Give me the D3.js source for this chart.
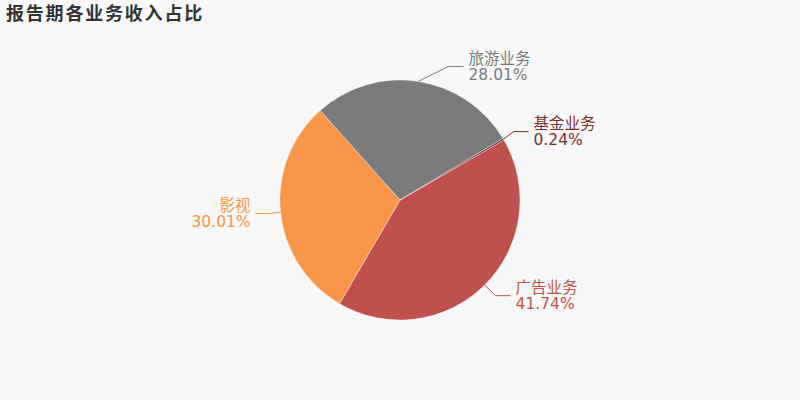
<!DOCTYPE html>
<html>
<head>
<meta charset="utf-8">
<script src="https://cdn.jsdelivr.net/npm/d3@7/dist/d3.min.js"></script>
<style>
  html, body { margin: 0; padding: 0; background: #f8f8f8; }
  svg { display: block; }
</style>
</head>
<body>
<svg id="chart" width="800" height="400"></svg>
<script>
const title = "报告期各业务收入占比";
const categories = ["广告业务", "影视", "旅游业务", "基金业务"];
const values = [41.74, 30.01, 28.01, 0.24];
const colors = ["#c0504d", "#f79646", "#7b7b7b", "#7a2e2c"];

const W = 800, H = 400;
const cx = 400, cy = 200, r = 120;
const len = 15, len2 = 15, labelDistance = 5, labelH = 32;
const font = "'DejaVu Sans', 'Noto Sans CJK SC', sans-serif";

const svg = d3.select("#chart");
svg.append("rect").attr("width", W).attr("height", H).attr("fill", "#f8f8f8");

svg.append("text")
  .attr("x", 6).attr("y", 20)
  .attr("font-family", "'Noto Sans CJK SC', sans-serif")
  .attr("font-size", 18).attr("font-weight", "bold")
  .attr("letter-spacing", 1.8)
  .attr("fill", "#333")
  .text(title);

const data = categories.map((c, i) => ({ name: c, value: values[i], color: colors[i] }));
const pie = d3.pie().sort(null).value(d => d.value)
  .startAngle(Math.PI / 3).endAngle(Math.PI / 3 + 2 * Math.PI);
const arcs = pie(data);
const arc = d3.arc().innerRadius(0).outerRadius(r);

const g = svg.append("g").attr("transform", `translate(${cx},${cy})`);
g.selectAll("path").data(arcs).enter().append("path")
  .attr("d", arc)
  .attr("fill", d => d.data.color)
  .attr("stroke", "#f8f8f8").attr("stroke-width", 0.4);

// label layout (ECharts-like)
const layouts = arcs.map(a => {
  const mid = (a.startAngle + a.endAngle) / 2;
  const dx = Math.sin(mid), dy = -Math.cos(mid);
  const dir = dx < 0 ? -1 : 1;
  const x0 = cx + r * dx, y0 = cy + r * dy;
  const x1 = cx + (r + len) * dx, y1 = cy + (r + len) * dy;
  const x2 = x1 + dir * len2;
  return { a, dir, pts: [[x0, y0], [x1, y1], [x2, y1]], x: x2 + dir * labelDistance, y: y1 };
});

function adjustSide(list, dir) {
  list.sort((p, q) => p.y - q.y);
  // simple overlap shift
  for (let i = 1; i < list.length; i++) {
    const minY = list[i - 1].y + labelH;
    if (list[i].y < minY) list[i].y = minY;
  }
  const up = list.filter(l => l.y < cy), down = list.filter(l => l.y >= cy);
  function changeX(items, isDown) {
    let last = isDown ? Number.MAX_VALUE : 0;
    for (const it of items) {
      const dY = Math.abs(it.y - cy);
      let dX = dY < r + len ? Math.sqrt((r + len + len2) ** 2 - dY * dY) : Math.abs(it.x - cx);
      if (isDown && dX >= last) dX = last - 10;
      if (!isDown && dX <= last) dX = last + 10;
      it.x = cx + dX * dir;
      last = dX;
    }
  }
  changeX(up, false);
  changeX(down, true);
}
adjustSide(layouts.filter(l => l.dir > 0), 1);
adjustSide(layouts.filter(l => l.dir < 0), -1);
layouts.forEach(l => {
  const dist = l.pts[1][0] - l.pts[2][0];
  l.pts[2][0] = l.x - l.dir * labelDistance;
  l.pts[1][0] = l.pts[2][0] + dist;
  l.pts[1][1] = l.pts[2][1] = l.y;
});

const lg = svg.append("g");
lg.selectAll("polyline").data(layouts).enter().append("polyline")
  .attr("points", d => d.pts.map(p => p.join(",")).join(" "))
  .attr("fill", "none")
  .attr("stroke", d => d.a.data.color)
  .attr("stroke-width", 1);

const lt = lg.selectAll("text").data(layouts).enter().append("text")
  .attr("font-family", font)
  .attr("font-size", 15.5)
  .attr("fill", d => d.a.data.color)
  .attr("text-anchor", d => d.dir > 0 ? "start" : "end");
lt.append("tspan").attr("x", d => d.x).attr("y", d => d.y - 8).attr("dy", "0.35em")
  .text(d => d.a.data.name);
lt.append("tspan").attr("x", d => d.x).attr("y", d => d.y + 8).attr("dy", "0.35em")
  .text(d => d.a.data.value.toFixed(2) + "%");
</script>
</body>
</html>
